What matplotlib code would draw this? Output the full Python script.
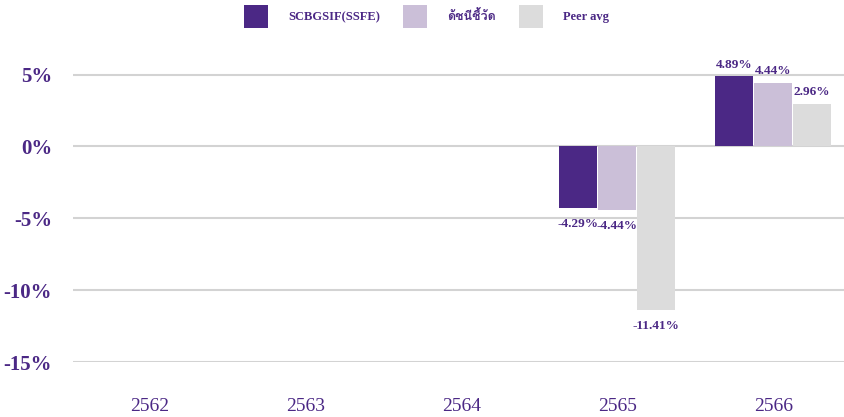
import numpy as np
import matplotlib
matplotlib.use('Agg')
from matplotlib import pyplot as plt
from matplotlib import font_manager
from matplotlib.ft2font import FT2Font
from matplotlib.patches import Patch

# data (% return per year)
years = ['2562', '2563', '2564', '2565', '2566']
fund = [np.nan, np.nan, np.nan, -4.29, 4.89]
bench = [np.nan, np.nan, np.nan, -4.44, 4.44]
peer = [np.nan, np.nan, np.nan, -11.41, 2.96]
series_names = ['SCBGSIF(SSFE)', 'ดัชนีชี้วัด', 'Peer avg']
colors = ['#4B2885', '#CBBFD8', '#DCDCDC']
text_color = '#4B2885'


# find some installed font that has Thai glyphs, for the legend fallback
def find_thai_font():
    for f in font_manager.fontManager.ttflist:
        try:
            if 0x0E14 in FT2Font(f.fname).get_charmap():
                return f.name
        except Exception:
            pass
    return 'DejaVu Sans'


thai_font = find_thai_font()
plt.rcParams['font.family'] = ['Liberation Serif', thai_font, 'DejaVu Sans']

fig = plt.figure(figsize=(8.45, 4.17), dpi=100)
ax = fig.add_axes([73 / 845, 1 - 362 / 417, 1 - 73 / 845, (362 - 40) / 417])

x = np.arange(len(years))
w = 0.25
for k, (vals, c) in enumerate(zip([fund, bench, peer], colors)):
    pos = x + (k - 1) * w
    ax.bar(pos, vals, width=w * 0.97, color=c, zorder=2)
    for px, v in zip(pos, vals):
        if np.isnan(v):
            continue
        if v >= 0:
            ax.annotate(f'{v:.2f}%', (px, v), xytext=(0, 4), textcoords='offset points',
                        ha='center', va='bottom', fontsize=9.5, fontweight='bold', color=text_color)
        else:
            ax.annotate(f'{v:.2f}%', (px, v), xytext=(0, -7), textcoords='offset points',
                        ha='center', va='top', fontsize=9.5, fontweight='bold', color=text_color)

ax.set_xlim(-0.49, 4.46)
ax.set_ylim(-15, 7.4)
ax.set_yticks([-15, -10, -5, 0, 5])
ax.set_yticklabels([f'{t}%' for t in [-15, -10, -5, 0, 5]], fontsize=15,
                   fontweight='bold', color=text_color)
ax.set_xticks(x)
ax.set_xticklabels(years, fontsize=14, color=text_color)
ax.tick_params(axis='both', length=0)
ax.tick_params(axis='y', pad=15)
ax.tick_params(axis='x', pad=26)
ax.grid(axis='y', color='#D3D3D3', linewidth=1.5, zorder=0)
for s in ax.spines.values():
    s.set_visible(False)

handles = [Patch(facecolor=c) for c in colors]
fig.legend(handles, series_names, loc='center', bbox_to_anchor=(426.5 / 845, 1 - 16.5 / 417),
           ncol=3, frameon=False, labelcolor=text_color,
           prop={'family': ['Liberation Serif', thai_font, 'DejaVu Sans'], 'weight': 'bold', 'size': 9},
           handlelength=1.92, handleheight=2.45, handletextpad=1.65, columnspacing=1.8)

fig.savefig('out.png', dpi=100)
